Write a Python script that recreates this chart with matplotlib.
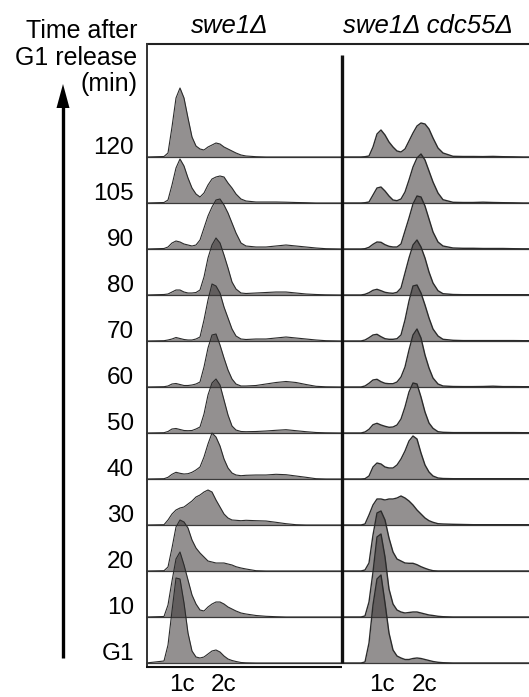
import matplotlib
matplotlib.use("Agg")
import matplotlib.pyplot as plt

plt.rcParams['font.family'] = ['Liberation Sans', 'DejaVu Sans']

# ---------------- data ----------------
time_labels = ["G1", "10", "20", "30", "40", "50", "60", "70", "80", "90", "105", "120"]
panel_titles = ["swe1\u0394", "swe1\u0394 cdc55\u0394"]
ploidy_labels = ["1c", "2c"]

# DNA-content channel (shared sampling grid)
dna = [0, 18, 22, 26, 30, 34, 38, 42, 46, 50, 54, 58, 62, 66, 70, 74, 78, 82, 86, 90,
       95, 100, 110, 120, 130, 140, 150, 160, 170, 180, 197]

# swe1Δ (left panel) cell counts, per time point
swe1_G1 = [0, 2, 18, 52, 85, 84, 60, 30, 12, 6, 5, 6, 9, 12, 13, 11, 7, 4, 2.5, 1.5, 0.5, 0.2, 0, 0, 0, 0, 0, 0, 0, 0, 0]
swe1_10 = [0, 0.5, 12, 36, 58, 65, 52, 37, 22, 13, 7, 6, 10, 13, 15, 15, 13, 10, 8, 6, 4, 3, 1.5, 0.7, 0.3, 0, 0, 0, 0, 0, 0]
swe1_20 = [0, 0.3, 4, 23, 44, 51, 49, 43, 31, 23, 18, 14, 10, 9, 8, 8, 8, 7, 6, 4.3, 3, 2, 0.3, 0, 0, 0, 0, 0, 0, 0, 0]
swe1_30 = [0, 0.3, 5, 11, 15, 17, 18, 21, 24, 28, 30, 33, 35, 33, 25, 18, 11, 7, 5, 4.7, 4.3, 4.7, 4.3, 4, 2.7, 1.3, 0.3, 0, 0, 0, 0]
swe1_40 = [0, 0.3, 1.7, 4.7, 6.7, 5.7, 5, 5.3, 6.7, 9, 12, 22, 35, 46, 42, 33, 20, 11, 6, 4, 3.3, 3.7, 4, 4, 4.7, 4.3, 3, 1.7, 0.3, 0, 0]
swe1_50 = [0, 0.3, 1.5, 4, 4.5, 3.5, 2.5, 2.3, 2.5, 4, 6, 19, 38, 50, 54, 48, 33, 18, 7, 3, 1.5, 1.3, 1.5, 2, 2.7, 3.3, 2.3, 1.3, 0.5, 0.2, 0]
swe1_60 = [0, 0.3, 1, 3, 3.5, 2.5, 1.5, 1.5, 2, 3, 5, 20, 39, 52, 53, 42, 29, 17, 8, 3, 1, 1, 1.5, 3, 4.5, 5.5, 4.5, 2.5, 0.7, 0.2, 0]
swe1_70 = [0, 0.3, 1, 2, 3.5, 2.5, 1.5, 1, 1, 2, 4, 21, 41, 57, 55, 48, 34, 23, 12, 5, 2, 1.5, 2, 2, 3, 4, 3, 2, 1, 0.3, 0]
swe1_80 = [0, 0.5, 1, 3, 5, 5, 3, 2, 2, 2.5, 5, 18, 37, 50, 57, 52, 40, 27, 13, 6, 2, 1.5, 2, 2.5, 3, 3, 2, 1, 0.5, 0.2, 0]
swe1_90 = [0, 0.5, 2, 6, 8, 7, 5, 4, 3, 4, 9, 21, 33, 42, 49, 50, 44, 36, 26, 16, 6, 3, 2, 2, 3, 4, 3, 2, 1, 0.3, 0]
swe1_105 = [0, 0.5, 3, 18, 35, 44, 37, 25, 15, 9, 6, 10, 18, 24, 26, 27, 26, 20, 15, 9, 4, 2, 1, 1, 1, 0.8, 0.5, 0.3, 0, 0, 0]
swe1_120 = [0, 0.5, 4, 30, 59, 69, 59, 39, 20, 11, 8, 7, 10, 12, 14, 13, 10, 8, 6, 4, 2, 1, 0.3, 0, 0, 0, 0, 0, 0, 0, 0]

# swe1Δ cdc55Δ (right panel)
cdc55_G1 = [0, 0, 1, 20, 58, 84, 88, 60, 30, 13, 7, 5, 3.5, 3.5, 4.5, 5, 4.5, 3.5, 2.5, 1.5, 0.7, 0.3, 0, 0, 0, 0, 0, 0, 0, 0, 0]
cdc55_10 = [0, 0, 1, 15, 45, 80, 83, 60, 28, 13, 7, 5, 4, 4.5, 5, 5, 4, 3, 2, 1.5, 0.7, 0.3, 0, 0, 0, 0, 0, 0, 0, 0, 0]
cdc55_20 = [0, 0, 1, 8, 36, 58, 60, 51, 33, 19, 12, 10, 8, 7.7, 7.7, 6.3, 4.3, 2.7, 1.3, 0.3, 0, 0, 0, 0, 0, 0, 0, 0, 0, 0, 0]
cdc55_30 = [0, 0, 1, 10, 20, 26, 26, 25, 26, 26, 27, 29, 27, 24, 20, 15, 11, 7, 4.3, 2.7, 1.3, 1, 0.7, 0.5, 0.3, 0.3, 0.3, 0.3, 0.3, 0.3, 0.3]
cdc55_40 = [0, 0, 0.3, 3, 12, 16, 15, 12, 11, 11, 14, 20, 28, 38, 43, 40, 26, 14, 7, 3, 1, 0.5, 0.3, 0.3, 0.3, 0.3, 0.3, 0.3, 0.3, 0.3, 0.3]
cdc55_50 = [0, 0, 1, 3.7, 8.3, 9.7, 8, 6.7, 5.7, 6, 8, 14, 26, 41, 50, 49, 36, 21, 10, 4.7, 1.3, 0.7, 0.4, 0.4, 0.4, 0.4, 0.4, 0.4, 0.4, 0.3, 0.3]
cdc55_60 = [0, 0, 1, 3.7, 7, 7.7, 5.3, 3.7, 3.3, 3.3, 5, 10, 20, 37, 52, 58, 49, 32, 19, 9, 3, 1, 0.5, 0.4, 0.4, 0.5, 0.8, 0.4, 0.4, 0.3, 0.3]
cdc55_70 = [0, 0, 1, 3.3, 6, 6.7, 4.3, 2.3, 1.7, 1.7, 2.3, 6, 21, 40, 55, 56, 48, 36, 23, 12, 5, 1.7, 0.7, 0.4, 0.4, 0.4, 0.4, 0.4, 0.4, 0.3, 0.3]
cdc55_80 = [0, 0, 0.7, 2.3, 4.7, 5.7, 4.3, 2.7, 2, 1.7, 2.7, 7, 22, 37, 50, 55, 48, 37, 23, 12, 4.3, 1.3, 0.5, 0.3, 0.3, 0.3, 0.3, 0.3, 0.3, 0.3, 0.3]
cdc55_90 = [0, 0, 0.3, 1.7, 4.7, 7, 6.7, 4.3, 2.7, 2, 2, 5, 18, 31, 45, 53, 52, 43, 30, 17, 7, 3, 1, 0.7, 0.7, 0.5, 0.5, 0.5, 0.3, 0.2, 0.2]
cdc55_105 = [0, 0, 0.3, 1, 8, 15, 16, 12, 7, 3, 2.3, 4, 11, 23, 36, 45, 49, 43, 32, 21, 10, 3.3, 0.7, 0.5, 0.5, 0.8, 0.5, 0.3, 0.2, 0, 0]
cdc55_120 = [0, 0, 0.3, 1, 10, 23, 27, 22, 15, 10, 6, 5, 8, 16, 24, 31, 34, 33, 28, 19, 9, 4, 0.7, 0.5, 0.5, 0.4, 0.6, 0.3, 0.2, 0, 0]

swe1_rows = [swe1_G1, swe1_10, swe1_20, swe1_30, swe1_40, swe1_50,
             swe1_60, swe1_70, swe1_80, swe1_90, swe1_105, swe1_120]
cdc55_rows = [cdc55_G1, cdc55_10, cdc55_20, cdc55_30, cdc55_40, cdc55_50,
              cdc55_60, cdc55_70, cdc55_80, cdc55_90, cdc55_105, cdc55_120]

# ---------------- layout ----------------
W, H = 529, 697
fig = plt.figure(figsize=(W / 100, H / 100), dpi=100)


def fx(p):
    return p / W


def fy(p):
    return 1 - p / H


STEP = 46  # vertical offset between stacked histograms
FILL = '#3a3535'
ALPHA = 0.55
EDGE = '#2b2b2b'

axL = fig.add_axes([fx(146), fy(666), (342 - 146) / W, (666 - 43) / H])
axR = fig.add_axes([fx(342), fy(666), (529 - 342) / W, (666 - 43) / H])
axL.set_xlim(0, 196)
axR.set_xlim(-1, 186)

for ax, rows, lw in ((axL, swe1_rows, 0.8), (axR, cdc55_rows, 1.0)):
    ax.set_ylim(-3, 620)
    ax.axis('off')
    n = len(rows)
    for i in range(n - 1, -1, -1):
        base = i * STEP
        ax.axhline(base, color='#3c3c3c', lw=0.9, zorder=1)
        top = [base + v for v in rows[i]]
        ax.fill_between(dna, base, top, color=FILL, alpha=ALPHA, lw=0, zorder=2 + (n - i))
        ax.plot(dna, top, color=EDGE, lw=lw, zorder=2 + (n - i) + 0.5)

# overlay for frame, arrow and text
ov = fig.add_axes([0, 0, 1, 1])
ov.set_xlim(0, W)
ov.set_ylim(H, 0)
ov.axis('off')
ov.patch.set_alpha(0)

ov.plot([146, 529], [43.5, 43.5], color='#222222', lw=1.5, solid_capstyle='butt')
ov.plot([147, 147], [43, 666], color='#333333', lw=1.4, solid_capstyle='butt')
ov.plot([342, 342], [55, 663], color='#111111', lw=2.4, solid_capstyle='butt')
ov.plot([146, 342], [666.5, 666.5], color='#111111', lw=1.5, solid_capstyle='butt')

# time arrow
ov.plot([63, 63], [106, 658], color='black', lw=2.4, solid_capstyle='butt')
ov.fill([56.5, 69.5, 63], [108, 108, 84], color='black', lw=0)

# header text
ov.text(137, 37.5, "Time after", ha='right', va='baseline', fontsize=18)
ov.text(137, 65, "G1 release", ha='right', va='baseline', fontsize=18)
ov.text(137, 91, "(min)", ha='right', va='baseline', fontsize=18)

ov.text(230, 33, panel_titles[0], ha='center', va='baseline', fontsize=18.5, style='italic')
ov.text(428, 33, panel_titles[1], ha='center', va='baseline', fontsize=18.5, style='italic')

for i, lab in enumerate(time_labels):
    ov.text(134, 663 - i * STEP - 3, lab, ha='right', va='baseline', fontsize=17.5)

for cx1, cx2 in ((182, 224), (382, 425)):
    ov.text(cx1, 691, ploidy_labels[0], ha='center', va='baseline', fontsize=17.5)
    ov.text(cx2, 691, ploidy_labels[1], ha='center', va='baseline', fontsize=17.5)

fig.savefig('out.png', dpi=100)
